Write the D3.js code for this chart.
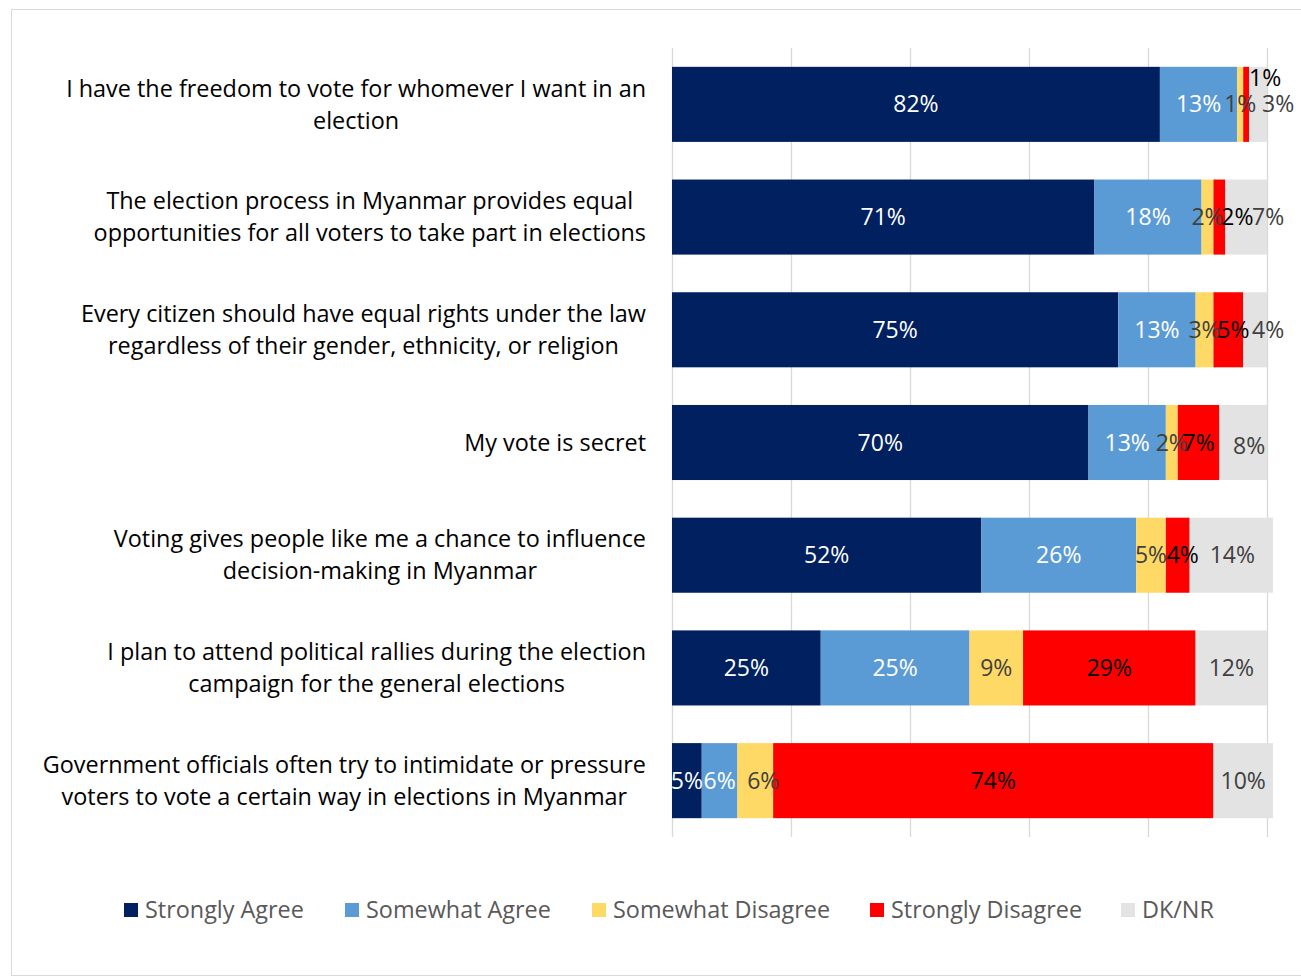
<!DOCTYPE html>
<html>
<head>
<meta charset="utf-8">
<script src="https://cdn.jsdelivr.net/npm/d3@7"></script>
<style>
  html, body { margin: 0; padding: 0; background: #fff; }
  svg { display: block; font-family: "Open Sans", "Noto Sans", sans-serif; }
</style>
</head>
<body>
<svg id="chart" width="1301" height="977"></svg>
<script>
// Survey statements (each split onto display lines)
const statements = [
  ["I have the freedom to vote for whomever I want in an", "election"],
  ["The election process in Myanmar provides equal", "opportunities for all voters to take part in elections"],
  ["Every citizen should have equal rights under the law", "regardless of their gender, ethnicity, or religion"],
  ["My vote is secret"],
  ["Voting gives people like me a chance to influence", "decision-making in Myanmar"],
  ["I plan to attend political rallies during the election", "campaign for the general elections"],
  ["Government officials often try to intimidate or pressure", "voters to vote a certain way in elections in Myanmar"]
];

const responses = ["Strongly Agree", "Somewhat Agree", "Somewhat Disagree", "Strongly Disagree", "DK/NR"];

// Percent of respondents per response, one value per statement
const stronglyAgree    = [82, 71, 75, 70, 52, 25, 5];
const somewhatAgree    = [13, 18, 13, 13, 26, 25, 6];
const somewhatDisagree = [1, 2, 3, 2, 5, 9, 6];
const stronglyDisagree = [1, 2, 5, 7, 4, 29, 74];
const dkNr             = [3, 7, 4, 8, 14, 12, 10];

const xTicks = [0, 20, 40, 60, 80, 100];

const colors = ["#002060", "#5B9BD5", "#FFD966", "#FF0000", "#E3E3E3"];
const labelColors = ["#FFFFFF", "#FFFFFF", "#404040", "#000000", "#404040"];

const seriesValues = [stronglyAgree, somewhatAgree, somewhatDisagree, stronglyDisagree, dkNr];
const rows = statements.map((s, i) => {
  const r = { key: i };
  responses.forEach((name, k) => { r[name] = seriesValues[k][i]; });
  return r;
});

const FS = 23;      // value labels
const FS_TXT = 23.4; // statements and legend
const svg = d3.select("#chart");

// outer chart frame
svg.append("rect")
  .attr("x", 11.5).attr("y", 9.5)
  .attr("width", 1300).attr("height", 966)
  .attr("fill", "none").attr("stroke", "#D9D9D9").attr("stroke-width", 1);

const x = d3.scaleLinear().domain([0, 100]).range([672, 1267]);
const y = d3.scaleBand()
  .domain(d3.range(statements.length))
  .range([48, 837])
  .paddingInner(0.334)
  .paddingOuter(0.167);

// vertical gridlines
const grid = svg.append("g").attr("class", "grid")
  .attr("transform", "translate(0,837)")
  .call(d3.axisBottom(x).tickValues(xTicks).tickSize(-789).tickFormat(""));
grid.select(".domain").remove();
grid.selectAll(".tick line").attr("stroke", "#D9D9D9").attr("stroke-width", 1.3);

// stacked bars
const stack = d3.stack().keys(responses)(rows);

const layers = svg.append("g").selectAll("g")
  .data(stack)
  .join("g")
  .attr("fill", (d, k) => colors[k]);

layers.selectAll("rect")
  .data(d => d)
  .join("rect")
  .attr("x", d => x(d[0]))
  .attr("y", (d, i) => y(i))
  .attr("width", d => x(d[1]) - x(d[0]))
  .attr("height", y.bandwidth());

// value labels; labels of narrow segments are nudged aside ("row-series": [dx, dy])
const nudge = {
  "0-3": [19, -26], "0-4": [20, 0],
  "1-3": [18, 0],   "1-4": [22, 0],
  "2-3": [5, 0],    "2-4": [13, 0],
  "3-4": [6, 3],
  "4-3": [5, 0],    "4-4": [1, 0],
  "6-2": [8, 0]
};

const labels = svg.append("g").attr("font-size", FS).attr("text-anchor", "middle");
stack.forEach((layer, k) => {
  layer.forEach((d, i) => {
    const n = nudge[i + "-" + k] || [0, 0];
    labels.append("text")
      .attr("x", (x(d[0]) + x(d[1])) / 2 + n[0])
      .attr("y", y(i) + y.bandwidth() / 2 + n[1])
      .attr("dy", "0.35em")
      .attr("fill", labelColors[k])
      .text(seriesValues[k][i] + "%");
  });
});

// statement labels: each block is right aligned, its lines centred on one another
const lineH = 32;
const rightEdge = 646;
const cats = svg.append("g").attr("font-size", FS_TXT).attr("text-anchor", "middle").attr("fill", "#000");
statements.forEach((lines, i) => {
  const cy = y(i) + y.bandwidth() / 2;
  const texts = lines.map((ln, j) => cats.append("text")
    .attr("y", cy + (j - (lines.length - 1) / 2) * lineH)
    .attr("dy", "0.35em")
    .text(ln));
  const maxW = d3.max(texts, t => t.node().getComputedTextLength());
  texts.forEach(t => t.attr("x", rightEdge - maxW / 2));
});

// legend
const legendX = [124, 345, 592, 870, 1121];
const legend = svg.append("g").attr("font-size", FS_TXT).attr("fill", "#595959");
responses.forEach((name, k) => {
  const g = legend.append("g").attr("transform", `translate(${legendX[k]},910)`);
  g.append("rect").attr("x", 0).attr("y", -7).attr("width", 14).attr("height", 14).attr("fill", colors[k]);
  g.append("text").attr("x", 21).attr("dy", "0.35em").text(name);
});
</script>
</body>
</html>
